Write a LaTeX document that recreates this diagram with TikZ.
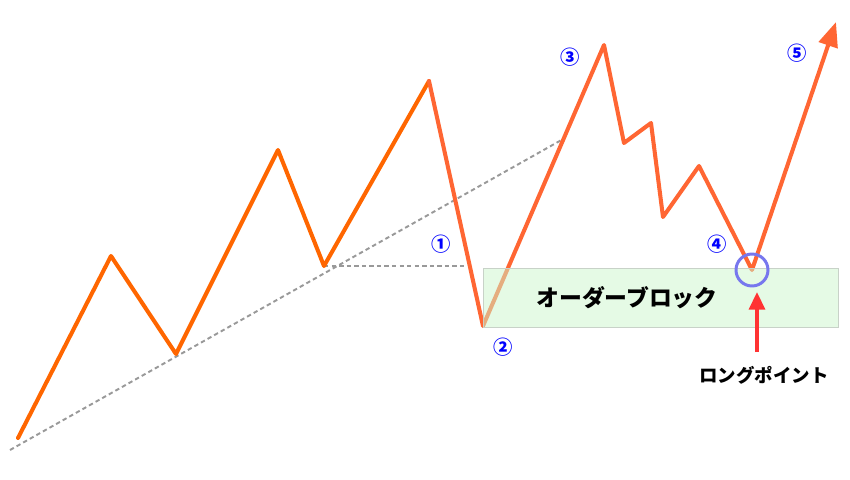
\documentclass[tikz,border=0pt]{standalone}
\usepackage{fontspec}
\setmainfont{Noto Sans CJK JP}
\usetikzlibrary{arrows.meta,positioning}
\definecolor{waveone}{HTML}{FF6600}
\definecolor{wavetwo}{HTML}{FF6633}
\definecolor{obgreen}{HTML}{CCF5CC}
\definecolor{obline}{HTML}{C8D2C8}
\definecolor{ringblue}{HTML}{7777EE}
\definecolor{pointred}{HTML}{FF3333}
\definecolor{trendgray}{HTML}{999999}

\begin{document}
\begin{tikzpicture}[x=0.02cm,y=-0.02cm]

\tikzset{wave/.style={line width=2.3pt,line join=round,line cap=round},
	trend/.style={trendgray,line width=1.1pt,dash pattern=on 2.5pt off 1.8pt},
	num/.style={blue,font=\bfseries\fontsize{11}{11}\selectfont}}

\useasboundingbox (0,0) rectangle (850,480);

\draw[trend](10,450)--(565,138);
\draw[trend](324,266)--(470,266);

\draw[wave,waveone](18,438)--(111,256)--(176,354)--(278,150)--(324,266)--(429,81);
\draw[wave,wavetwo,-{Triangle[length=14pt,width=11pt]}](429,81)--(483,326)--(604,45)--(624,143)--(651,123)--(663,217)--(699,166)--(752,270)--(836,22);

%===================================================================
\node[draw=obline,line width=0.6pt,fill=obgreen,fill opacity=0.5,text opacity=1,minimum width=7.1cm,minimum height=1.18cm,anchor=north west,inner sep=0pt,name=ob] at (483,268) {};
\node[font=\bfseries\fontsize{13}{13}\selectfont,name=obtext] at (627,298) {オーダーブロック};

\draw[ringblue,line width=1.7pt] (752,270) circle (0.32cm);
\coordinate (ring) at (757,292);
\coordinate (tail) at (757,352);
\node[font=\bfseries\fontsize{10.5}{10.5}\selectfont,name=long] at (764,375) {ロングポイント};
\draw[pointred,line width=2pt,-{Triangle[length=10pt,width=9pt]}](tail)--(ring);

\node[num,name=n1] at (441,244) {①};
\node[num,name=n2] at (503,347) {②};
\node[num,name=n3] at (570,57) {③};
\node[num,name=n4] at (717,244) {④};
\node[num,name=n5] at (797,53) {⑤};
\end{tikzpicture}
\end{document}
